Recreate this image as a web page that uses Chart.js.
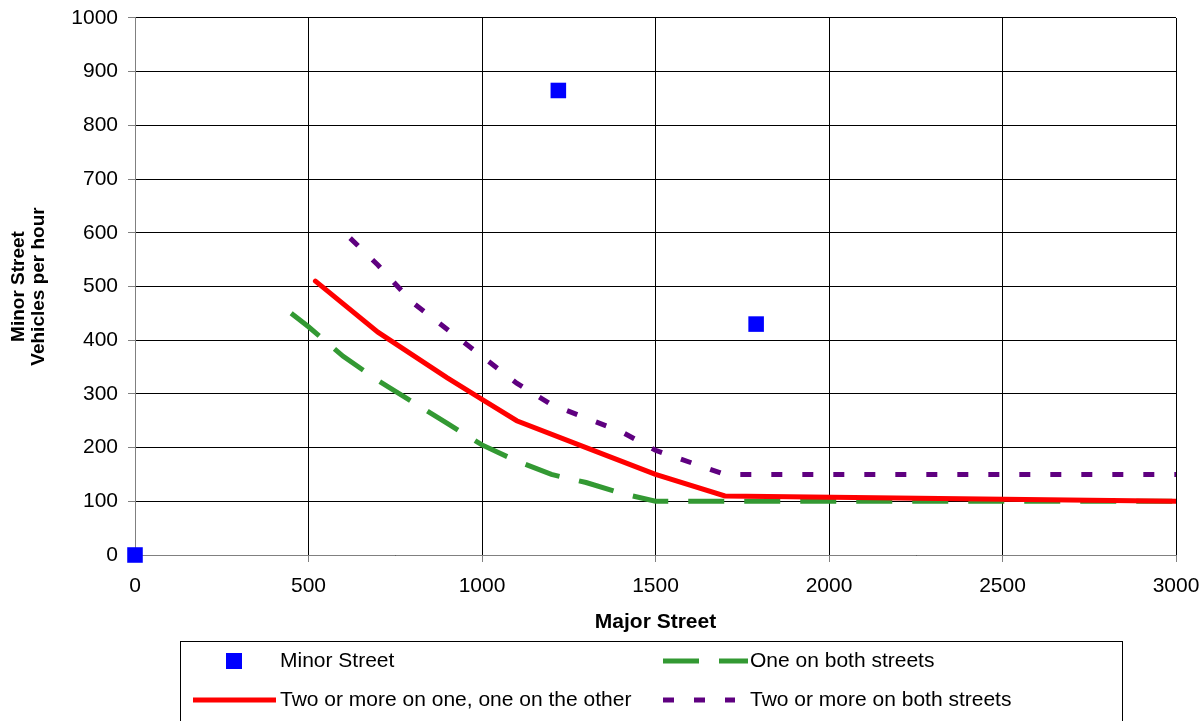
<!DOCTYPE html>
<html>
<head>
<meta charset="utf-8">
<script src="https://cdn.jsdelivr.net/npm/chart.js@4/dist/chart.umd.min.js"></script>
<style>
  html, body { margin: 0; padding: 0; background: #fff; }
  #wrap { width: 1204px; height: 721px; position: relative; }
</style>
</head>
<body>
<div id="wrap"><canvas id="c"></canvas></div>
<script>
// signal warrant curves — major vs minor street volumes (veh/h)
const minorPts = [{ x: 0, y: 0 }, { x: 1220, y: 865 }, { x: 1790, y: 430 }];
const twoOneX = [520, 700, 900, 1000, 1100, 1300, 1500, 1700, 3000];
const twoOneY = [510, 415, 330, 290, 250, 200, 150, 110, 100];
const oneBothX = [450, 500, 600, 700, 800, 900, 1000, 1100, 1200, 1300, 1400, 1500, 3000];
const oneBothY = [450, 425, 370, 325, 285, 245, 205, 175, 150, 135, 115, 100, 100];
const twoBothX = [620, 700, 800, 1000, 1100, 1200, 1400, 1500, 1700, 3000];
const twoBothY = [590, 540, 470, 370, 320, 280, 230, 195, 150, 150];

const FONT = "'Liberation Sans', Arial, sans-serif";
const pts = (xs, ys) => xs.map((x, i) => ({ x, y: ys[i] }));
const plain = (v) => String(v);

const LEGEND_ROWS = [
  [{ ds: 0, mx: 234, tx: 280 }, { ds: 2, mx: 663, mw: 85, tx: 750 }],
  [{ ds: 1, mx: 193, mw: 83, tx: 280 }, { ds: 3, mx: 663, mw: 72, tx: 750 }],
];

// legend drawn in a boxed 2x2 grid below the axis title
const boxLegend = {
  id: "boxLegend",
  afterDraw(chart) {
    const ctx = chart.ctx, dsets = chart.data.datasets;
    ctx.save();
    ctx.strokeStyle = "#000"; ctx.lineWidth = 1;
    ctx.strokeRect(180.5, 641.5, 942, 100);
    ctx.font = "21px " + FONT;
    ctx.fillStyle = "#000"; ctx.textBaseline = "middle"; ctx.textAlign = "left";
    const rowY = [661, 700];
    LEGEND_ROWS.forEach((row, r) => {
      const y = rowY[r];
      row.forEach(it => {
        const d = dsets[it.ds];
        if (d.showLine) {
          ctx.save();
          ctx.strokeStyle = d.borderColor; ctx.lineWidth = d.borderWidth;
          ctx.setLineDash(d.borderDash || []);
          ctx.beginPath(); ctx.moveTo(it.mx, y); ctx.lineTo(it.mx + it.mw, y); ctx.stroke();
          ctx.restore();
        } else {
          ctx.fillStyle = d.backgroundColor;
          ctx.fillRect(it.mx - 8, y - 8, 16, 16);
          ctx.fillStyle = "#000";
        }
        ctx.fillText(d.label, it.tx, y);
      });
    });
    ctx.restore();
  },
};

new Chart(document.getElementById("c"), {
  type: "scatter",
  data: {
    datasets: [
      { label: "Minor Street", data: minorPts, pointStyle: "rect", pointRadius: 11,
        backgroundColor: "#0000ff", borderColor: "#0000ff", borderWidth: 0,
        showLine: false, clip: false, order: 0 },
      { label: "Two or more on one, one on the other", data: pts(twoOneX, twoOneY),
        showLine: true, borderColor: "#ff0000", borderWidth: 5, pointRadius: 0,
        borderCapStyle: "round", order: 1 },
      { label: "One on both streets", data: pts(oneBothX, oneBothY),
        showLine: true, borderColor: "#339933", borderWidth: 5, pointRadius: 0,
        borderDash: [36, 20], order: 2 },
      { label: "Two or more on both streets", data: pts(twoBothX, twoBothY),
        showLine: true, borderColor: "#5f0080", borderWidth: 5, pointRadius: 0,
        borderDash: [11, 20], order: 3 },
    ],
  },
  options: {
    responsive: true, maintainAspectRatio: false, animation: false,
    layout: { padding: { top: 14, right: 28, bottom: 84, left: 0 } },
    plugins: { legend: { display: false }, tooltip: { enabled: false } },
    scales: {
      x: {
        type: "linear", min: 0, max: 3000,
        ticks: { stepSize: 500, color: "#000", padding: 4, callback: plain,
                 font: { family: FONT, size: 21, lineHeight: 1.9 } },
        grid: { color: "#000", lineWidth: 1, tickLength: 7, tickColor: "#808080" },
        border: { color: "#808080", width: 1 },
        title: { display: true, text: "Major Street", color: "#000",
                 font: { family: FONT, size: 21, weight: "bold" }, padding: { top: 4, bottom: 2 } },
        afterFit: (s) => { s.height = 82; },
      },
      y: {
        min: 0, max: 1000,
        ticks: { stepSize: 100, color: "#000", padding: 10, callback: plain,
                 font: { family: FONT, size: 21, lineHeight: 0.76 } },
        grid: { color: "#000", lineWidth: 1, tickLength: 7, tickColor: "#808080" },
        border: { color: "#808080", width: 1 },
        title: { display: true, text: ["Minor Street", "Vehicles per hour"], color: "#000",
                 font: { family: FONT, size: 19, weight: "bold", lineHeight: 1.05 },
                 padding: { top: 9, bottom: 0 } },
        afterFit: (s) => { s.width = 135; },
      },
    },
  },
  plugins: [boxLegend],
});
</script>
</body>
</html>
